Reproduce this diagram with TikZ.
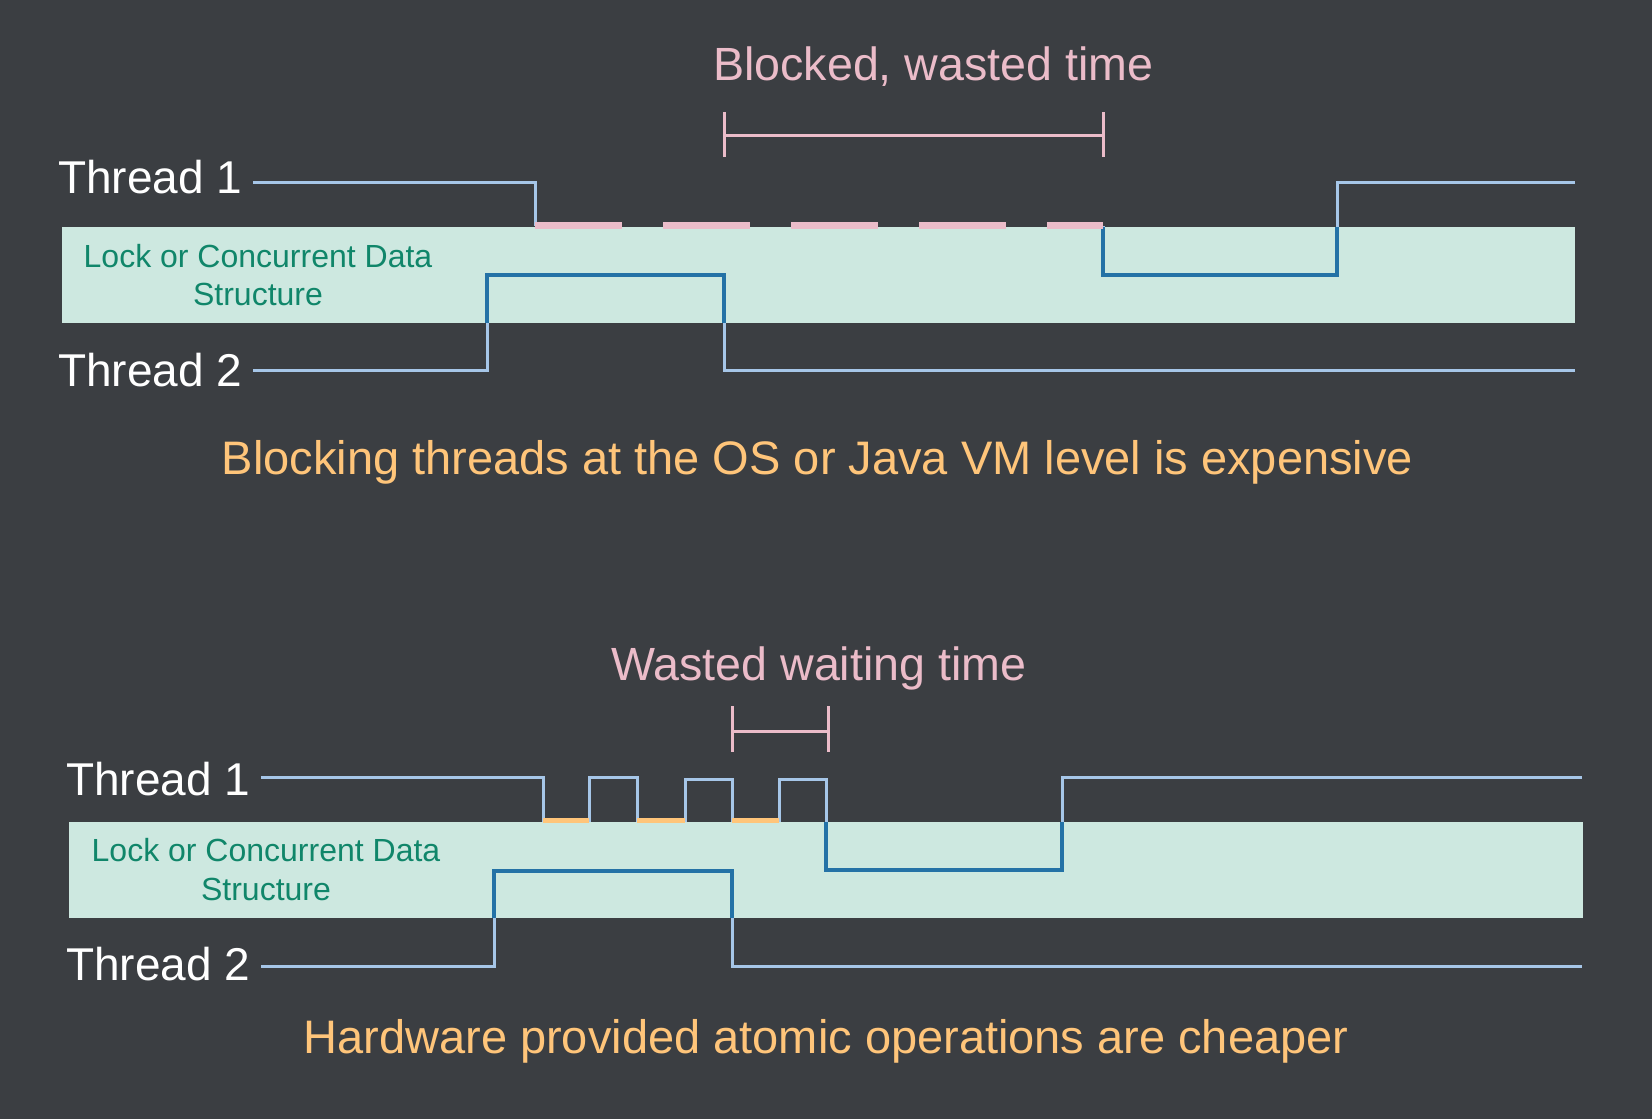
\documentclass[tikz,border=0pt]{standalone}
\usepackage{fontspec}
\setmainfont{Liberation Sans}
\definecolor{bg}{RGB}{59,62,66}
\definecolor{pinkc}{RGB}{235,188,201}
\definecolor{lblue}{RGB}{166,198,232}
\definecolor{dblue}{RGB}{36,114,166}
\definecolor{mint}{RGB}{205,232,224}
\definecolor{tealc}{RGB}{16,134,106}
\definecolor{orangec}{RGB}{255,197,122}
\begin{document}
\begin{tikzpicture}[x=1pt,y=-1pt,
  big/.style={font=\fontsize{46}{55}\selectfont, inner sep=0pt},
  lbl/.style={big, text=white, anchor=base west},
  titletxt/.style={font=\fontsize{46.6}{55}\selectfont, inner sep=0pt, text=pinkc, anchor=base west},
  captxt/.style={font=\fontsize{47}{56}\selectfont, inner sep=0pt, text=orangec, anchor=base},
  boxtxt/.style={font=\fontsize{32}{38}\selectfont, text=tealc, anchor=base, inner sep=0pt},
  lockbox/.style={fill=mint, draw=none, anchor=north west, inner sep=0pt},
  wave/.style={draw=lblue, line width=3pt},
  wavein/.style={draw=dblue, line width=3.5pt},
  bracket/.style={draw=pinkc, line width=3pt},
  blockdash/.style={draw=pinkc, line width=7.5pt, dash pattern=on 87pt off 41pt},
  spin/.style={draw=orangec, line width=5pt}
]
\useasboundingbox (0,0) rectangle (1652,1119);
\fill[bg] (0,0) rectangle (1652,1119);

% ---------------- top diagram ----------------
\node[lockbox, minimum width=1513pt, minimum height=95.5pt] (box1) at (62,227) {};
\node[boxtxt] (b1l1) at (258,267) {Lock or Concurrent Data};
\node[boxtxt] (b1l2) at (258,305) {Structure};

\def\tOneA{(253,182.7) -- (535,182.7) -- (535,226)}
\def\tOneB{(1103,226) -- (1103,275) -- (1337,275) -- (1337,182.7) -- (1575,182.7)}
\def\tTwo{(253,370) -- (487,370) -- (487,275) -- (724,275) -- (724,370) -- (1575,370)}
\draw[wave] \tOneA;
\draw[wave] \tOneB;
\draw[wave] \tTwo;
\begin{scope}
  \clip (box1.north west) rectangle (box1.south east);
  \draw[wavein] \tOneB;
  \draw[wavein] \tTwo;
\end{scope}
\coordinate (d1s) at (535,225.5);
\coordinate (d1e) at (1103,225.5);
\draw[blockdash] (d1s) -- (d1e);

\coordinate (br1a) at (724,135);
\coordinate (br1b) at (1103,135);
\draw[bracket] (724,112) -- (724,157);
\draw[bracket] (1103,112) -- (1103,157);
\draw[bracket] (br1a) -- (br1b);

\node[titletxt] (title1) at (713,80) {Blocked, wasted time};
\node[lbl] (th1a) at (58,193) {Thread 1};
\node[lbl] (th2a) at (58,386) {Thread 2};
\node[captxt] (cap1) at (817.5,474) {Blocking threads at the OS or Java VM level is expensive};

% ---------------- bottom diagram ----------------
\node[lockbox, minimum width=1514pt, minimum height=95.5pt] (box2) at (69,822) {};
\node[boxtxt] (b2l1) at (266,861) {Lock or Concurrent Data};
\node[boxtxt] (b2l2) at (266,900) {Structure};

\def\bOne{(261,777) -- (543,777) -- (543,820) -- (589,820) -- (589,777) -- (637,777) -- (637,820) -- (685,820) -- (685,779) -- (732,779) -- (732,820) -- (779,820) -- (779,779) -- (826,779) -- (826,870) -- (1062,870) -- (1062,777) -- (1582,777)}
\def\bTwo{(261,966) -- (494,966) -- (494,871) -- (732,871) -- (732,966) -- (1582,966)}
\draw[wave] \bOne;
\draw[wave] \bTwo;
\begin{scope}
  \clip (box2.north west) rectangle (box2.south east);
  \draw[wavein] \bOne;
  \draw[wavein] \bTwo;
\end{scope}
\draw[spin] (543,820) -- (589,820);
\draw[spin] (637,820) -- (685,820);
\draw[spin] (732,820) -- (779,820);

\coordinate (br2a) at (732,731);
\coordinate (br2b) at (828,731);
\draw[bracket] (732,706) -- (732,752);
\draw[bracket] (828,706) -- (828,752);
\draw[bracket] (br2a) -- (br2b);

\node[titletxt] (title2) at (611,680) {Wasted waiting time};
\node[lbl] (th1b) at (66,795) {Thread 1};
\node[lbl] (th2b) at (66,980) {Thread 2};
\node[captxt] (cap2) at (826,1053) {Hardware provided atomic operations are cheaper};
\end{tikzpicture}
\end{document}
